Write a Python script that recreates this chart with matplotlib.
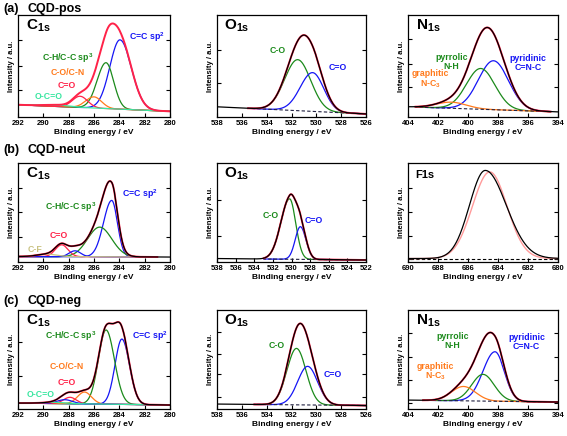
import numpy as np
import matplotlib
matplotlib.use("Agg")
import matplotlib.pyplot as plt

plt.rcParams["font.family"] = ["Liberation Sans", "DejaVu Sans"]
plt.rcParams["mathtext.fontset"] = "custom"
plt.rcParams["mathtext.rm"] = "Liberation Sans:bold"
plt.rcParams["mathtext.bf"] = "Liberation Sans:bold"
plt.rcParams["mathtext.it"] = "Liberation Sans:bold"

# --------------------------------
# Data (intensity normalised 0..1 per panel)
# peak centre / eV, height above baseline, sigma on high-BE side, sigma on low-BE side
# --------------------------------

# (a) CQD-pos  C1s
a_c1s_names = ["C=C sp$^2$", "C-H/C-C sp$^3$", "C-O/C-N", "C=O", "O-C=O"]
a_c1s_center = [283.95, 285.05, 286.0, 287.1, 288.9]
a_c1s_height = [0.68, 0.45, 0.11, 0.11, 0.015]
a_c1s_s_hi = [0.80, 0.70, 0.65, 0.60, 1.0]
a_c1s_s_lo = [0.90, 0.60, 0.60, 0.60, 1.0]
a_c1s_base = [0.12, 0.055]

# (a) CQD-pos  O1s
a_o1s_names = ["C-O", "C=O"]
a_o1s_center = [531.5, 530.3]
a_o1s_height = [0.50, 0.38]
a_o1s_s_hi = [1.05, 1.0]
a_o1s_s_lo = [1.05, 0.9]
a_o1s_base = [0.10, 0.03]

# (a) CQD-pos  N1s
a_n1s_names = ["pyridinic\nC=N-C", "pyrrolic\nN-H", "graphitic\nN-C$_3$"]
a_n1s_center = [398.3, 399.15, 401.1]
a_n1s_height = [0.48, 0.40, 0.06]
a_n1s_s_hi = [1.0, 0.95, 1.0]
a_n1s_s_lo = [1.0, 0.95, 1.0]
a_n1s_base = [0.10, 0.05]

# (b) CQD-neut  C1s
b_c1s_names = ["C=C sp$^2$", "C-H/C-C sp$^3$", "C=O", "", "C-F"]
b_c1s_center = [284.6, 285.55, 288.55, 287.5, 289.7]
b_c1s_height = [0.57, 0.30, 0.12, 0.06, 0.025]
b_c1s_s_hi = [0.65, 0.95, 0.5, 0.45, 0.8]
b_c1s_s_lo = [0.45, 0.95, 0.5, 0.45, 0.8]
b_c1s_base = [0.055, 0.05]

# (b) CQD-neut  O1s
b_o1s_names = ["C-O", "C=O"]
b_o1s_center = [530.2, 529.05]
b_o1s_height = [0.61, 0.33]
b_o1s_s_hi = [0.95, 0.55]
b_o1s_s_lo = [0.65, 0.60]
b_o1s_base = [0.035, 0.02]

# (b) CQD-neut  F1s  (fit and measured trace)
b_f1s_fit = [684.55, 0.875, 1.15, 1.15]
b_f1s_raw = [684.85, 0.89, 1.05, 1.4]
b_f1s_base = [0.035, 0.035]

# (c) CQD-neg  C1s
c_c1s_names = ["C=C sp$^2$", "C-H/C-C sp$^3$", "C-O/C-N", "C=O", "", "O-C=O"]
c_c1s_center = [283.8, 285.05, 286.75, 287.9, 288.3, 289.0]
c_c1s_height = [0.66, 0.75, 0.12, 0.065, 0.04, 0.012]
c_c1s_s_hi = [0.54, 0.60, 0.55, 0.5, 0.6, 1.0]
c_c1s_s_lo = [0.60, 0.66, 0.55, 0.5, 0.6, 1.0]
c_c1s_base = [0.06, 0.04]

# (c) CQD-neg  O1s
c_o1s_names = ["C-O", "C=O"]
c_o1s_center = [531.6, 530.7]
c_o1s_height = [0.57, 0.39]
c_o1s_s_hi = [0.77, 0.80]
c_o1s_s_lo = [0.77, 0.80]
c_o1s_base = [0.05, 0.035]

# (c) CQD-neg  N1s
c_n1s_names = ["pyridinic\nC=N-C", "pyrrolic\nN-H", "graphitic\nN-C$_3$"]
c_n1s_center = [398.2, 399.0, 400.3]
c_n1s_height = [0.50, 0.27, 0.145]
c_n1s_s_hi = [0.80, 0.75, 0.8]
c_n1s_s_lo = [0.62, 0.75, 0.8]
c_n1s_base = [0.09, 0.07]

row_titles = [("(a)", "CQD-pos"), ("(b)", "CQD-neut"), ("(c)", "CQD-neg")]


# --------------------------------
# Styles
# --------------------------------
BLUE = "#1515f5"
GREEN = "#1b8a1b"
ORANGE = "#ff7a1c"
RED = "#ff2248"
CYAN = "#38e6a0"
OLIVE = "#c9c282"

def peak(x, c, h, s_hi, s_lo):
    s = np.where(x > c, s_hi, s_lo)
    return h*np.exp(-(x-c)**2/(2*s**2))


W, H = 567, 436
fig = plt.figure(figsize=(W/100, H/100), dpi=100)

cols = [(18, 170), (217, 366), (408, 558)]
rows = [(15, 117), (163, 262), (310, 409)]


def make_ax(r, c):
    x0, x1 = cols[c]
    y0, y1 = rows[r]
    ax = fig.add_axes([x0/W, 1-y1/H, (x1-x0)/W, (y1-y0)/H])
    ax.set_ylim(0, 1)
    ax.tick_params(axis="x", direction="in", length=3, width=0.8,
                   labelsize=5.5, pad=2)
    ax.tick_params(axis="y", direction="in", length=3, width=0.8,
                   left=True, right=True, labelleft=False)
    for sp in ax.spines.values():
        sp.set_linewidth(0.9)
    ax.set_xlabel("Binding energy / eV", fontsize=6, fontweight="bold",
                  labelpad=1.5)
    ax.set_ylabel("Intensity / a.u.", fontsize=5.5, fontweight="bold",
                  labelpad=2)
    return ax


def style_xticks(ax, hi, lo, step=2):
    ticks = np.arange(lo, hi+0.1, step)
    ax.set_xticks(ticks)
    ax.set_xticklabels([f"{t:.0f}" for t in ticks], fontweight="bold",
                       fontsize=5.5)
    ax.set_xlim(hi, lo)


def spectrum_panel(ax, xr, fit_r, names, center, height, s_hi, s_lo, base,
                   colors, labels, core, raw=True, dashed=False, yt=()):
    hi, lo = xr
    style_xticks(ax, hi, lo)
    ax.set_yticks(yt)

    x = np.linspace(lo, hi, 600)
    bl = np.interp(x, [lo, hi], [base[1], base[0]])
    total = bl.copy()
    comps = []
    for c, h, sh, sl in zip(center, height, s_hi, s_lo):
        p = peak(x, c, h, sh, sl)
        comps.append(p)
        total += p

    m = (x >= fit_r[1]) & (x <= fit_r[0])
    for p, col in zip(comps, colors):
        ax.plot(x[m], bl[m]+p[m], color=col, lw=0.9)
    if dashed:
        ax.plot(x[m], bl[m], color="#202040", lw=0.8, ls=(0, (3, 2)))
    ax.plot(x[m], total[m], color=RED, lw=1.4)
    if raw:
        ax.plot(x, total, color="black", lw=0.9)

    for name, col, (tx, ty) in zip(names, colors, labels):
        if name:
            ax.text(tx, ty, name, color=col, fontsize=6.3, fontweight="bold",
                    ha="center", va="center", transform=ax.transAxes,
                    linespacing=1.0)
    ax.text(0.05, 0.97, core, fontsize=11, ha="left", va="top",
            transform=ax.transAxes)


# ---- row (a)
ax = make_ax(0, 0)
spectrum_panel(ax, (292, 280), (292, 280), a_c1s_names, a_c1s_center,
               a_c1s_height, a_c1s_s_hi, a_c1s_s_lo, a_c1s_base,
               [BLUE, GREEN, ORANGE, RED, CYAN],
               [(0.85, 0.78), (0.33, 0.58), (0.33, 0.44), (0.32, 0.31),
                (0.20, 0.20)],
               r"$\mathbf{C_{1s}}$", raw=False, yt=[0.26, 0.50, 0.75])

ax = make_ax(0, 1)
spectrum_panel(ax, (538, 526), (535.5, 526), a_o1s_names, a_o1s_center,
               a_o1s_height, a_o1s_s_hi, a_o1s_s_lo, a_o1s_base,
               [GREEN, BLUE], [(0.41, 0.65), (0.81, 0.49)],
               r"$\mathbf{O_{1s}}$", dashed=True, yt=[0.33, 0.66])

ax = make_ax(0, 2)
spectrum_panel(ax, (404, 394), (403.5, 394.5), a_n1s_names, a_n1s_center,
               a_n1s_height, a_n1s_s_hi, a_n1s_s_lo, a_n1s_base,
               [BLUE, GREEN, ORANGE],
               [(0.80, 0.53), (0.29, 0.54), (0.15, 0.37)],
               r"$\mathbf{N_{1s}}$", dashed=True, yt=[0.29, 0.52, 0.76])

# ---- row (b)
ax = make_ax(1, 0)
spectrum_panel(ax, (292, 280), (292, 281), b_c1s_names, b_c1s_center,
               b_c1s_height, b_c1s_s_hi, b_c1s_s_lo, b_c1s_base,
               [BLUE, GREEN, RED, BLUE, OLIVE],
               [(0.80, 0.69), (0.35, 0.55), (0.27, 0.27), (0, 0),
                (0.115, 0.13)],
               r"$\mathbf{C_{1s}}$", yt=[0.25, 0.50, 0.75])

ax = make_ax(1, 1)
spectrum_panel(ax, (538, 522), (533, 522), b_o1s_names, b_o1s_center,
               b_o1s_height, b_o1s_s_hi, b_o1s_s_lo, b_o1s_base,
               [GREEN, BLUE], [(0.36, 0.47), (0.65, 0.42)],
               r"$\mathbf{O_{1s}}$", dashed=True, yt=[0.26, 0.63])

ax = make_ax(1, 2)
style_xticks(ax, 690, 680)
ax.set_yticks([0.03, 0.26, 0.51, 0.75])
xf = np.linspace(680, 690, 600)
blf = np.interp(xf, [680, 690], [b_f1s_base[1], b_f1s_base[0]])
ax.plot(xf, blf, color="black", lw=0.8, ls=(0, (3, 2)))
ax.plot(xf, blf+peak(xf, *b_f1s_fit), color="#ff9a9a", lw=1.0)
ax.plot(xf, blf+peak(xf, *b_f1s_raw), color="black", lw=0.9)
ax.text(0.05, 0.93, "F1s", fontsize=8, fontweight="bold", ha="left",
        va="top", transform=ax.transAxes)

# ---- row (c)
ax = make_ax(2, 0)
spectrum_panel(ax, (292, 280), (292, 280), c_c1s_names, c_c1s_center,
               c_c1s_height, c_c1s_s_hi, c_c1s_s_lo, c_c1s_base,
               [BLUE, GREEN, ORANGE, RED, BLUE, CYAN],
               [(0.87, 0.74), (0.35, 0.74), (0.32, 0.43), (0.32, 0.27),
                (0, 0), (0.15, 0.15)],
               r"$\mathbf{C_{1s}}$", yt=[0.33, 0.68])

ax = make_ax(2, 1)
spectrum_panel(ax, (538, 526), (535, 526), c_o1s_names, c_o1s_center,
               c_o1s_height, c_o1s_s_hi, c_o1s_s_lo, c_o1s_base,
               [GREEN, BLUE], [(0.40, 0.64), (0.78, 0.35)],
               r"$\mathbf{O_{1s}}$", dashed=True,
               yt=[0.125, 0.35, 0.56, 0.78])

ax = make_ax(2, 2)
spectrum_panel(ax, (404, 394), (403, 394), c_n1s_names, c_n1s_center,
               c_n1s_height, c_n1s_s_hi, c_n1s_s_lo, c_n1s_base,
               [BLUE, GREEN, ORANGE],
               [(0.79, 0.675), (0.295, 0.685), (0.185, 0.375)],
               r"$\mathbf{N_{1s}}$", dashed=True,
               yt=[0.06, 0.29, 0.53, 0.77])

# ---- row titles
for (tag, name), yc in zip(row_titles, [9, 150, 301]):
    fig.text(3/W, 1-yc/H, tag, fontsize=9, fontweight="bold", va="center")
    fig.text(28/W, 1-yc/H, name, fontsize=9, fontweight="bold", va="center")

fig.savefig("out.png", dpi=100)
